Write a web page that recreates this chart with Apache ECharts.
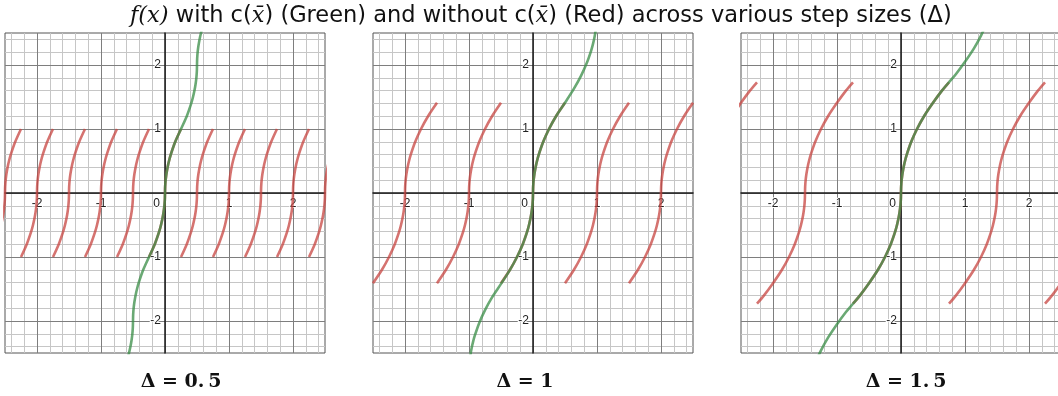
<!DOCTYPE html>
<html>
<head>
<meta charset="utf-8">
<script src="https://cdn.jsdelivr.net/npm/echarts@6/dist/echarts.min.js"></script>
<style>
  html, body { margin: 0; padding: 0; background: #fff; }
  #container { width: 1058px; height: 396px; }
</style>
</head>
<body>
<div id="container"></div>
<script>
  // step sizes shown under the panels
  const stepLabels = ['0.5', '1', '1.5'];
  // one half of a red piece: offset from its centre and height
  const pieceU = [0, 0.0025, 0.01, 0.0225, 0.04, 0.0625, 0.09, 0.16, 0.25, 0.36, 0.5, 0.64, 0.75];
  const pieceY = [0, 0.1, 0.2, 0.3, 0.4, 0.5, 0.6, 0.8, 1.0, 1.2, 1.41, 1.6, 1.73];
  // half width of a piece in each panel
  const halfWidth = [0.25, 0.5, 0.75];
  // centres of the red pieces
  const redCenters = [
    [-2.5, -2, -1.5, -1, -0.5, 0, 0.5, 1, 1.5, 2, 2.5],
    [-2, -1, 0, 1, 2],
    [-3, -1.5, 0, 1.5, 3]
  ];
  // green pieces: centres and the lift c(x̄) each one gets
  const greenCenters = [[-0.5, 0, 0.5], [-1, 0, 1], [-1.5, 0, 1.5]];
  const greenLift = [[-2, 0, 2], [-2.83, 0, 2.83], [-3.46, 0, 3.46]];
  // grid and tick labels
  const majorTicks = [-2, -1, 0, 1, 2];
  const minorTicks = [-2.4, -2.2, -2, -1.8, -1.6, -1.4, -1.2, -1, -0.8, -0.6, -0.4, -0.2, 0,
    0.2, 0.4, 0.6, 0.8, 1, 1.2, 1.4, 1.6, 1.8, 2, 2.2, 2.4];
  const xLabels = [-2, -1, 0, 1, 2];
  const yLabels = [-2, -1, 1, 2];

  const panelLeft = [5, 373, 741];
  const subCenter = [176, 520, 901];

  function piece(center, lift, hw) {
    let pts = [];
    for (let i = pieceU.length - 1; i > 0; i--) {
      if (pieceU[i] <= hw + 1e-9) pts.push([center - pieceU[i], lift - pieceY[i]]);
    }
    for (let i = 0; i < pieceU.length; i++) {
      if (pieceU[i] <= hw + 1e-9) pts.push([center + pieceU[i], lift + pieceY[i]]);
    }
    return pts;
  }

  let grids = [], xAxes = [], yAxes = [], series = [], titles = [];

  titles.push({
    left: 125,
    top: 0,
    text: '{m|f(x)} with c({m|x\u0304}) (Green) and without c({m|x\u0304}) (Red) across various step sizes (Δ)',
    textStyle: {
      fontFamily: 'DejaVu Sans',
      fontSize: 22.5,
      fontWeight: 'normal',
      color: '#111',
      rich: {
        m: {fontFamily: 'DejaVu Serif', fontStyle: 'italic', fontSize: 22.5, color: '#111'}
      }
    }
  });

  for (let p = 0; p < 3; p++) {
    let g = {
      left: panelLeft[p], top: 33, height: 320, outerBoundsMode: 'none',
      show: true, backgroundColor: '#fff', borderColor: '#555', borderWidth: 1
    };
    if (p === 2) g.right = -3; else g.width = 320;
    grids.push(g);
    let labelStyle = {
      color: '#222', fontSize: 12, fontFamily: 'Liberation Sans',
      textBorderColor: '#fff', textBorderWidth: 2
    };
    // minor grid
    xAxes.push({
      gridIndex: p, type: 'value', min: -2.5, max: 2.5, position: 'top',
      axisLine: {show: false}, axisTick: {show: false, customValues: minorTicks},
      axisLabel: {show: false},
      splitLine: {show: true, lineStyle: {color: '#c6c6c6', width: 1}}
    });
    yAxes.push({
      gridIndex: p, type: 'value', min: -2.5, max: 2.5, position: 'right',
      axisLine: {show: false}, axisTick: {show: false, customValues: minorTicks},
      axisLabel: {show: false},
      splitLine: {show: true, lineStyle: {color: '#c6c6c6', width: 1}}
    });
    // major grid, axes and labels (moved in to the zero lines)
    xAxes.push({
      gridIndex: p, type: 'value', min: -2.5, max: 2.5, z: 1, position: 'bottom', offset: -160,
      axisLine: {show: true, onZero: false, lineStyle: {color: '#1a1a1a', width: 1.5}},
      axisTick: {show: false, customValues: majorTicks},
      axisLabel: Object.assign({
        customValues: xLabels, margin: 5,
        formatter: v => v === 0 ? '{z|0}' : String(v),
        rich: {z: {padding: [0, 17, 4, 0], color: '#222', fontSize: 12, fontFamily: 'Liberation Sans'}}
      }, labelStyle),
      splitLine: {show: true, lineStyle: {color: '#7e7e7e', width: 1}}
    });
    yAxes.push({
      gridIndex: p, type: 'value', min: -2.5, max: 2.5, z: 1, position: 'left', offset: -160,
      axisLine: {show: true, onZero: false, lineStyle: {color: '#1a1a1a', width: 1.5}},
      axisTick: {show: false, customValues: majorTicks},
      axisLabel: Object.assign({customValues: yLabels, margin: 4}, labelStyle),
      splitLine: {show: true, lineStyle: {color: '#7e7e7e', width: 1}}
    });

    redCenters[p].forEach(c => {
      series.push({
        type: 'line', xAxisIndex: 2 * p + 1, yAxisIndex: 2 * p + 1,
        data: piece(c, 0, halfWidth[p]),
        showSymbol: false, smooth: 0.3, z: 2, silent: true,
        lineStyle: {color: '#c74440', width: 2.6, opacity: 0.75}
      });
    });

    let green = [];
    greenCenters[p].forEach((c, k) => {
      let pts = piece(c, greenLift[p][k], halfWidth[p]);
      green = green.concat(k === 0 ? pts : pts.slice(1));
    });
    series.push({
      type: 'line', xAxisIndex: 2 * p + 1, yAxisIndex: 2 * p + 1,
      data: green,
      showSymbol: false, smooth: 0.3, z: 3, silent: true,
      lineStyle: {color: '#388c46', width: 2.6, opacity: 0.75}
    });

    titles.push({
      left: subCenter[p], top: 368, textAlign: 'center',
      text: 'Δ = ' + stepLabels[p].replace('.', '.\u2009'),
      textStyle: {fontFamily: 'DejaVu Serif', fontSize: 19, fontWeight: 'bold', color: '#111'}
    });
  }

  let chart = echarts.init(document.getElementById('container'));
  chart.setOption({
    animation: false,
    backgroundColor: '#fff',
    title: titles,
    grid: grids,
    xAxis: xAxes,
    yAxis: yAxes,
    series: series
  });
</script>
</body>
</html>
